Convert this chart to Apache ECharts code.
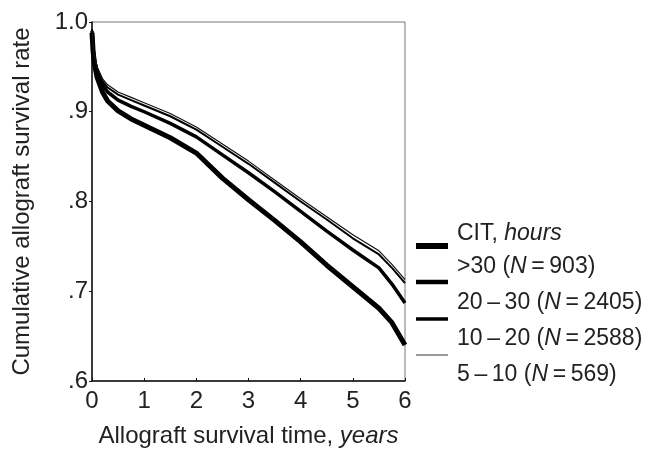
<!DOCTYPE html>
<html>
<head>
<meta charset="utf-8">
<script src="https://cdn.jsdelivr.net/npm/echarts@6/dist/echarts.min.js"></script>
<style>
  html, body { margin: 0; padding: 0; background: #fff; }
  #main { width: 647px; height: 449px; }
</style>
</head>
<body>
<div id="main"></div>
<script>
// survival time, years
const years = [0, 0.02, 0.05, 0.1, 0.2, 0.3, 0.5, 0.75, 1, 1.5, 2, 2.5, 3, 3.5, 4, 4.5, 5, 5.25, 5.5, 5.75, 6];

// cumulative survival per CIT group
const cit5to10 = [0.992, 0.975, 0.962, 0.950, 0.937, 0.930, 0.922, 0.916, 0.910, 0.898, 0.883, 0.864, 0.845, 0.824, 0.803, 0.783, 0.763, 0.754, 0.745, 0.730, 0.713];
const cit10to20 = [0.992, 0.974, 0.960, 0.948, 0.934, 0.927, 0.919, 0.913, 0.907, 0.895, 0.880, 0.861, 0.842, 0.821, 0.800, 0.780, 0.759, 0.750, 0.741, 0.726, 0.709];
const cit20to30 = [0.990, 0.972, 0.957, 0.944, 0.930, 0.922, 0.913, 0.906, 0.900, 0.887, 0.872, 0.852, 0.832, 0.811, 0.789, 0.767, 0.746, 0.736, 0.726, 0.708, 0.687];
const citOver30 = [0.988, 0.968, 0.952, 0.938, 0.922, 0.912, 0.901, 0.892, 0.885, 0.871, 0.854, 0.826, 0.802, 0.779, 0.755, 0.729, 0.705, 0.693, 0.681, 0.665, 0.640];

const groupLabels = ['>30', '20\u2009\u2013\u200930', '10\u2009\u2013\u200920', '5\u2009\u2013\u200910'];
const groupN = [903, 2405, 2588, 569];

const xTicks = ['0', '1', '2', '3', '4', '5', '6'];
const yTicks = { 0.6: '.6', 0.7: '.7', 0.8: '.8', 0.9: '.9', 1: '1.0' };

const FONT = '"Liberation Sans", Arial, sans-serif';
const FS = 24;     // axis text
const LFS = 23;    // legend text

function pairs(ys) {
  return years.map((t, i) => [t, ys[i]]);
}

const chart = echarts.init(document.getElementById('main'), null, { renderer: 'canvas' });

// legend drawn by hand: line sample sits between the text rows
const legendLines = [
  { y: 246, w: 6, c: '#000' },
  { y: 282, w: 4.5, c: '#000' },
  { y: 319, w: 3.5, c: '#000' },
  { y: 355, w: 1.5, c: '#777' }
];
const legendText = [268, 304, 340, 376];

const legendRich = {
  n: { fontFamily: FONT, fontSize: LFS, fill: '#222' },
  i: { fontFamily: FONT, fontSize: LFS, fontStyle: 'italic', fill: '#222' }
};

const graphic = [
  {
    type: 'text', left: 457, top: 235 - LFS / 2 - 1,
    style: { text: '{n|CIT, }{i|hours}', rich: legendRich }
  }
];
legendLines.forEach((l, k) => {
  graphic.push({
    type: 'line',
    shape: { x1: 416, y1: l.y, x2: 448, y2: l.y },
    style: { stroke: l.c, lineWidth: l.w }
  });
  graphic.push({
    type: 'text', left: 457, top: legendText[k] - LFS / 2 - 1,
    style: {
      text: '{n|' + groupLabels[k] + ' (}{i|N}{n|\u2009=\u2009' + groupN[k] + ')}',
      rich: legendRich
    }
  });
});

const option = {
  backgroundColor: '#fff',
  animation: false,
  grid: {
    left: 92, right: 242, top: 22, bottom: 68,
    outerBoundsMode: 'none',
    show: true, borderColor: '#777', borderWidth: 1
  },
  xAxis: {
    type: 'value', min: 0, max: 6, interval: 1,
    name: '{n|Allograft survival time, }{i|years}',
    nameLocation: 'middle', nameGap: 43,
    nameTextStyle: {
      rich: {
        n: { fontFamily: FONT, fontSize: FS, color: '#222' },
        i: { fontFamily: FONT, fontSize: FS, fontStyle: 'italic', color: '#222' }
      }
    },
    axisLine: { lineStyle: { color: '#111', width: 1.5 } },
    axisTick: { show: true, inside: true, length: 3, lineStyle: { color: '#111' } },
    axisLabel: {
      fontFamily: FONT, fontSize: FS, color: '#222', margin: 8,
      formatter: v => xTicks[Math.round(v)]
    },
    splitLine: { show: false }
  },
  yAxis: {
    type: 'value', min: 0.6, max: 1.0, interval: 0.1,
    name: 'Cumulative allograft survival rate',
    nameLocation: 'middle', nameGap: 58,
    nameTextStyle: { fontFamily: FONT, fontSize: FS, color: '#222' },
    axisLine: { show: true, lineStyle: { color: '#111', width: 1.5 } },
    axisTick: { show: true, length: 3, lineStyle: { color: '#111' } },
    axisLabel: {
      fontFamily: FONT, fontSize: FS, color: '#222', margin: 4,
      formatter: v => yTicks[Math.round(v * 10) / 10]
    },
    splitLine: { show: false }
  },
  graphic: graphic,
  series: [
    { name: '>30', type: 'line', data: pairs(citOver30), showSymbol: false, lineStyle: { color: '#000', width: 5 } },
    { name: '20-30', type: 'line', data: pairs(cit20to30), showSymbol: false, lineStyle: { color: '#000', width: 3.5 } },
    { name: '10-20', type: 'line', data: pairs(cit10to20), showSymbol: false, lineStyle: { color: '#000', width: 2 } },
    { name: '5-10', type: 'line', data: pairs(cit5to10), showSymbol: false, lineStyle: { color: '#111', width: 1.2 } }
  ]
};

chart.setOption(option);
</script>
</body>
</html>
